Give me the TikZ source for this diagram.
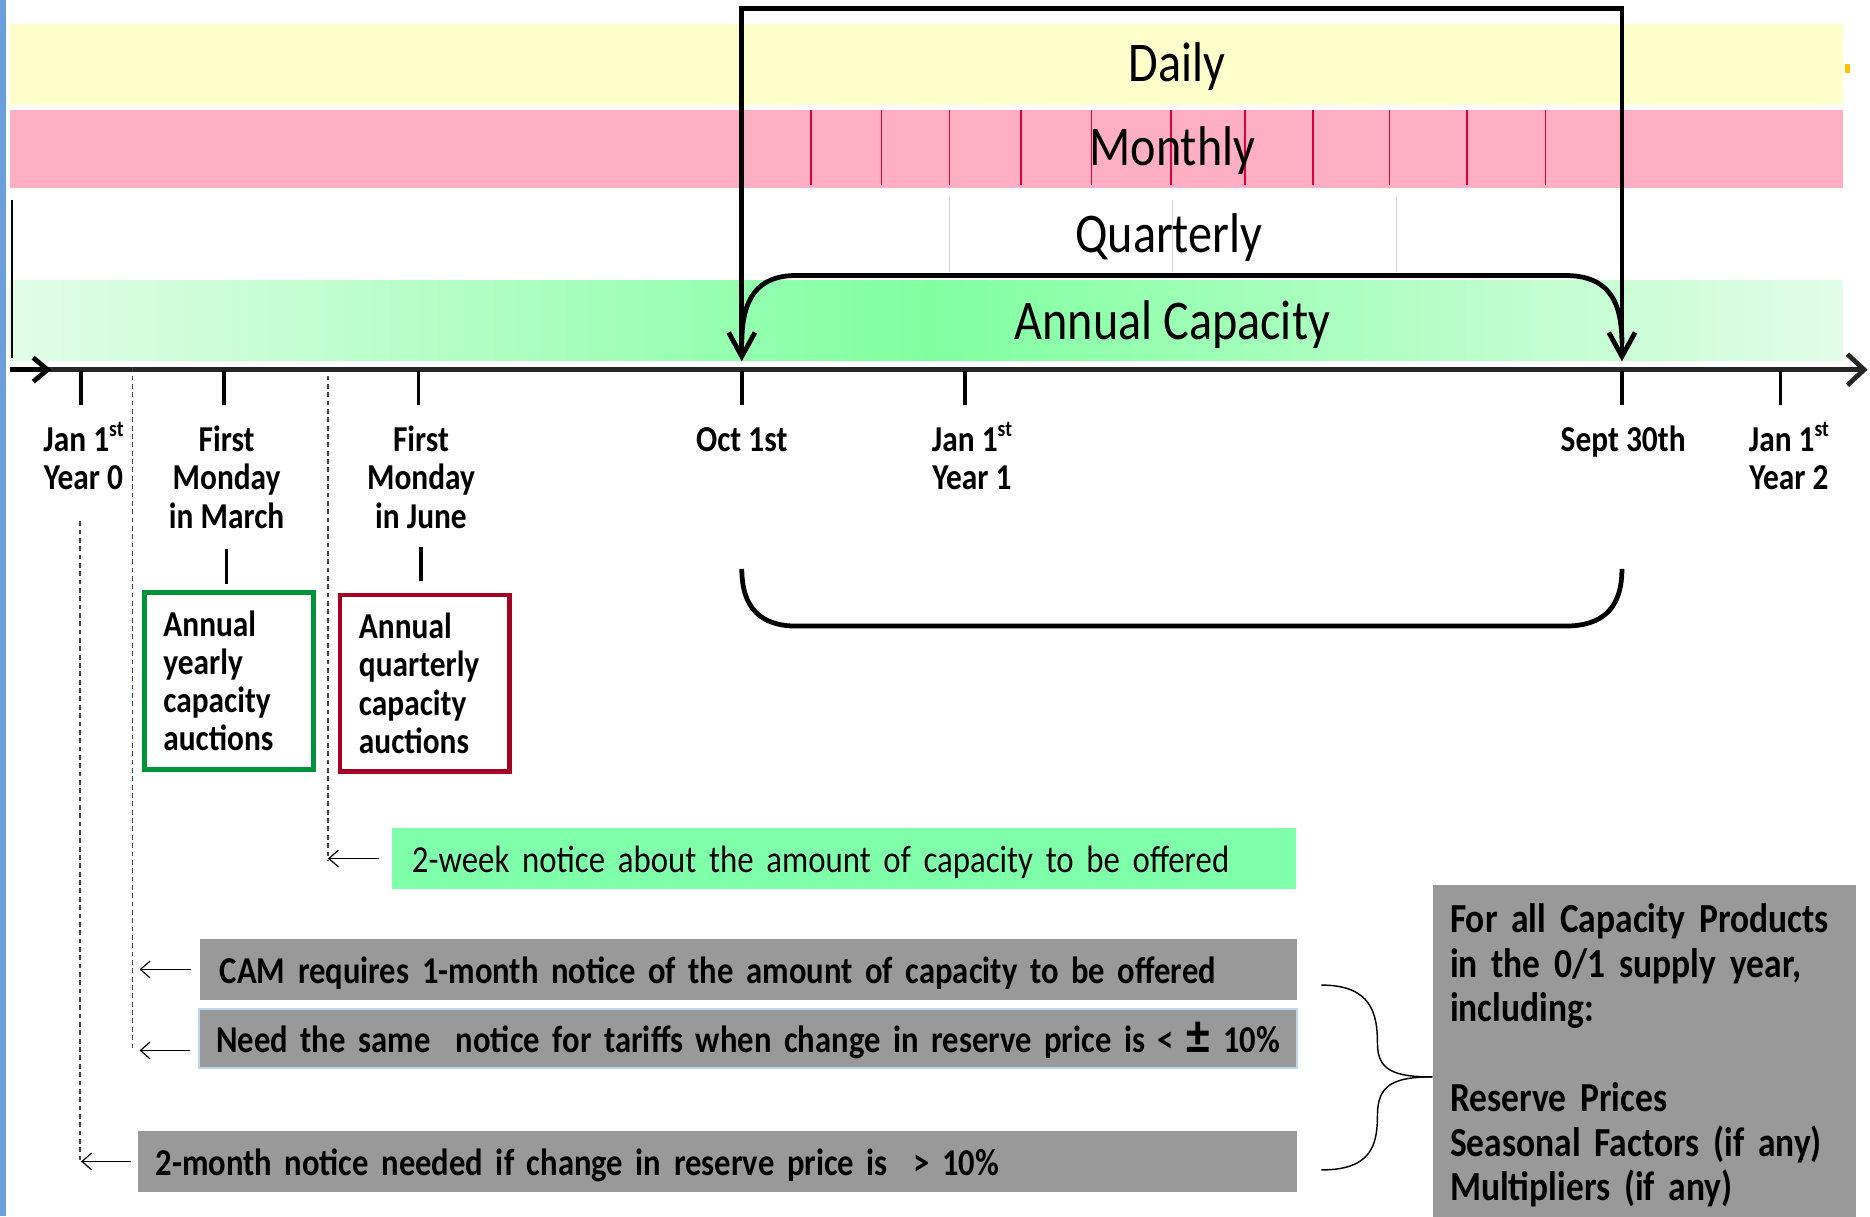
\documentclass[tikz,border=0pt]{standalone}
\usepackage{fontspec}
\setmainfont{Carlito}[FakeStretch=0.86]
\usetikzlibrary{arrows.meta,calc}

\definecolor{dailyfill}{HTML}{FFFFCC}
\definecolor{monthfill}{HTML}{FFAFC4}
\definecolor{monthline}{HTML}{E4003C}
\definecolor{quarterline}{HTML}{D0D0D0}
\definecolor{annualdeep}{HTML}{80FFA0}
\definecolor{annualpale}{HTML}{E2FDE8}
\definecolor{axisgray}{HTML}{262626}
\definecolor{notegreen}{HTML}{80FFAA}
\definecolor{notegray}{HTML}{999999}
\definecolor{yearlygreen}{HTML}{00943A}
\definecolor{quarterred}{HTML}{A50021}
\definecolor{edgeblue}{HTML}{6A9FDB}
\definecolor{paleblue}{HTML}{BDD7EE}
\definecolor{markorange}{HTML}{FFC000}

% small raised ordinal suffix
\newcommand\ordsup[1]{\raisebox{0.42em}{\fontsize{9.5}{10}\selectfont #1}}
% keeps the first line of every date label at the same height
\newcommand\firstline{\vphantom{1\ordsup{st}}}
% plus-minus sign set a little larger than the text around it
\newcommand\bigpm{\raisebox{-0.05em}{\scalebox{1.45}{±}}}

\begin{document}
\begin{tikzpicture}[x=0.5pt,y=-0.5pt,
  bandlabel/.style={font=\fontsize{23.5}{28}\selectfont, inner sep=0},
  datelabel/.style={font=\bfseries\fontsize{15.3}{16}\selectfont, align=center, anchor=north, inner sep=0},
  tick/.style={line width=1.5pt, black},
  bracket/.style={line width=2pt, black},
  bigtip/.style={-{Straight Barb[length=10pt,width=11pt,line width=2pt]}},
  auctionbox/.style={draw, line width=2pt, font=\bfseries\fontsize{15.3}{16}\selectfont, align=left,
    text width=55pt, inner xsep=8pt, minimum height=74pt, anchor=north west},
  notebox/.style={anchor=north west, align=left, inner ysep=0pt, minimum height=25.5pt,
    text height=14pt, text depth=2pt},
  guide/.style={line width=0.5pt, black!75, dash pattern=on 2pt off 1.5pt},
  notearrow/.style={line width=0.5pt, -{Straight Barb[length=4pt,width=7pt,line width=0.5pt]}},
  link/.style={line width=1.5pt, black}
]
\useasboundingbox (0,0) rectangle (1568,1020);

% ---------- product bands ----------
\fill[dailyfill] (8,20) rectangle (1545,88);
\fill[monthfill] (8,92) rectangle (1545,158);
\shade[left color=annualpale, right color=annualdeep] (8,235) rectangle (780,302);
\shade[left color=annualdeep, right color=annualpale] (780,235) rectangle (1545,302);
\fill[markorange] (1547,54) rectangle (1551,61);

\foreach \mx in {680,739,796,856,915,982,1044,1101,1165,1230,1296}
  \draw[monthline, line width=0.6pt] (\mx,92) -- (\mx,155);
\draw[quarterline, line width=0.6pt] (796,165) -- (796,228);
\draw[quarterline, line width=0.6pt] (983,168) -- (983,228);
\draw[quarterline, line width=0.6pt] (1171,165) -- (1171,228);
\draw[black, line width=0.8pt] (10,168) -- (10,300);

\node[bandlabel] (daily) at (987,56) {Daily};
\node[bandlabel] (monthly) at (983,126) {Monthly};
\node[bandlabel] (quarterly) at (980,199) {Quarterly};
\node[bandlabel] (annual) at (983,272) {Annual Capacity};

% ---------- time axis ----------
\coordinate (axL) at (8,310);
\coordinate (axR) at (1566,310);
\draw[axisgray, line width=2pt, -{Straight Barb[length=7pt,width=13pt,line width=2pt]}] (axL) -- (axR);
\draw[black, line width=2pt, -{Straight Barb[length=6pt,width=10pt,line width=2pt]}] (axL) -- (43,310);

\foreach \tx in {68,188,351,622,809,1360,1493}
  \draw[tick] (\tx,311) -- (\tx,340);

\node[datelabel] (jan0) at (70,353.5) {\firstline Jan 1\ordsup{st}\\Year 0};
\node[datelabel] (march) at (190,353.5) {\firstline First\\Monday\\in March};
\node[datelabel] (june) at (353,353.5) {\firstline First\\Monday\\in June};
\node[datelabel] (oct) at (622,353.5) {\firstline Oct 1st};
\node[datelabel] (jan1) at (815,353.5) {\firstline Jan 1\ordsup{st}\\Year 1};
\node[datelabel] (sept) at (1361,353.5) {\firstline Sept 30th};
\node[datelabel] (jan2) at (1500,353.5) {\firstline Jan 1\ordsup{st}\\Year 2};

% ---------- gas year brackets ----------
\coordinate (octTip) at (622,303);
\coordinate (sepTip) at (1360,303);
\draw[bracket, bigtip] (622,7) -- (octTip);
\draw[bracket, bigtip] (1360,7) -- (sepTip);
\draw[bracket] (622,8) -- (622,7) -- (1360,7) -- (1360,8);
\draw[bracket] (622,288) .. controls (622,250) and (635,231) .. (668,231)
  -- (1312,231) .. controls (1347,231) and (1360,250) .. (1360,288);
\draw[bracket] (622,477) .. controls (622,510) and (638,525) .. (668,525)
  -- (1312,525) .. controls (1344,525) and (1360,510) .. (1360,477);

% ---------- auctions ----------
\node[auctionbox, draw=yearlygreen] (yearly) at (119,495)
  {Annual\\yearly\\capacity\\auctions};
\node[auctionbox, draw=quarterred] (quarterlyauct) at (283,497)
  {Annual\\quarterly\\capacity\\auctions};
\draw[link, shorten <=8.5pt, shorten >=2.5pt] (march.south) -- (yearly.north -| march.south);
\draw[link, shorten <=7.5pt, shorten >=5pt] (june.south) -- (quarterlyauct.north -| june.south);

% ---------- notice periods ----------
\node[notebox, fill=notegreen, font=\fontsize{16}{20}\selectfont, text width=362pt, inner xsep=8.5pt]
  (twoweek) at (328,694) {\mbox{2-week notice about the amount of capacity to be offered}};
\node[notebox, fill=notegray, font=\bfseries\fontsize{15.9}{20}\selectfont, text width=443pt, inner xsep=8.5pt]
  (cam) at (167,787) {\mbox{CAM requires 1-month notice of the amount of capacity to be offered}};
\node[notebox, fill=notegray, draw=paleblue, line width=0.8pt, font=\bfseries\fontsize{15.9}{20}\selectfont,
  text width=446pt, inner xsep=7.25pt, minimum height=25pt]
  (same) at (166,845) {\mbox{Need the same\ \ notice for tariffs when change in reserve price is < \bigpm\ 10\%}};
\node[notebox, fill=notegray, font=\bfseries\fontsize{15.9}{20}\selectfont, text width=471pt, inner xsep=7.5pt]
  (twomonth) at (115,948) {\mbox{2-month notice needed if change in reserve price is\ \ > 10\%}};

\node[anchor=north west, fill=notegray, font=\bfseries\fontsize{17.3}{18.75}\selectfont, align=left,
  text width=163pt, inner xsep=7.25pt, inner ysep=0pt, minimum height=142.5pt]
  (products) at (1201,742)
  {For all Capacity Products\\in the 0/1 supply year,\\including:\\[18.75pt]Reserve Prices\\Seasonal Factors (if any)\\Multipliers (if any)};

% dashed deadline guides
\coordinate (g2w) at (275,0);
\coordinate (g1m) at (111,0);
\coordinate (g2m) at (67,0);
\draw[guide] (275,315) -- (275,722);
\draw[guide] (111,308) -- (111,880);
\draw[guide] (67,437) -- (67,975);

\draw[notearrow, shorten <=5pt] (twoweek.west) -- (twoweek.west -| g2w);
\draw[notearrow, shorten <=3.5pt, shorten >=3pt] (cam.west) -- (cam.west -| g1m);
\draw[notearrow, shorten <=3.5pt, shorten >=3pt] ($(same.west)+(0,10)$) -- ($(same.west -| g1m)+(0,10)$);
\draw[notearrow, shorten <=2.5pt, shorten >=0.5pt] (twomonth.west) -- (twomonth.west -| g2m);

% brace joining the tariff notices to the product list
\coordinate (braceTip) at (products.west |- 0,903);
\draw[line width=0.6pt] (1108,826) .. controls (1150,826) and (1155,850) .. (1155,875)
  .. controls (1155,897) and (1168,903) .. (braceTip);
\draw[line width=0.6pt] (braceTip) .. controls (1168,903) and (1155,910) .. (1155,935)
  .. controls (1155,960) and (1150,981) .. (1108,981);

% page edge
\fill[edgeblue] (0,0) rectangle (5,1020);
\end{tikzpicture}
\end{document}
